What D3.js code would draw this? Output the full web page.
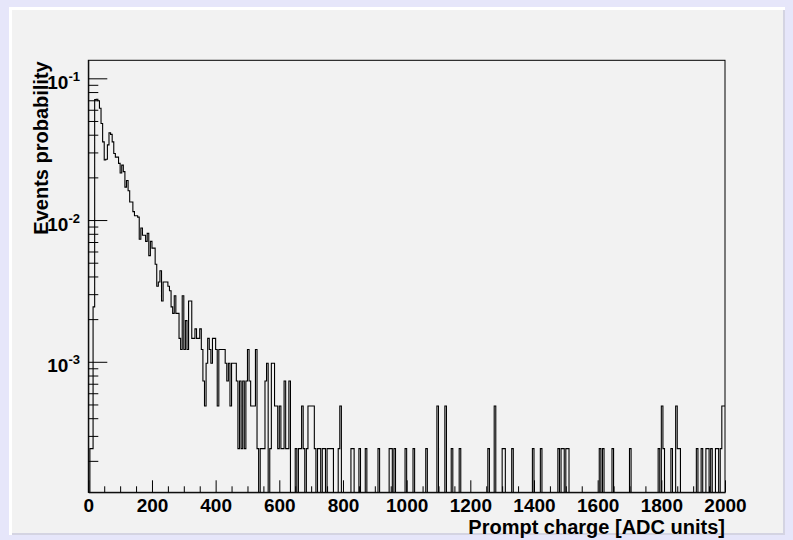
<!DOCTYPE html>
<html>
<head>
<meta charset="utf-8">
<script src="https://cdn.jsdelivr.net/npm/d3@7"></script>
<style>
  html, body { margin: 0; padding: 0; background: #e6e6fa; }
  svg { display: block; }
  text { font-family: "Liberation Sans", Arial, Helvetica, sans-serif; font-weight: bold; fill: #000; }
</style>
</head>
<body>
<svg id="chart" width="793" height="540"></svg>
<script>
// Histogram definition: prompt charge, 400 bins of 5 ADC units from 0 to 2000
const chargeRange = [0, 2000];
const binCount = 400;

// Entries per bin (bins 0..399)
const binEntries = [
  0, 1, 1, 10, 290, 292, 285, 252, 197, 146,
  109, 110, 139, 169, 165, 146, 121, 114, 114, 103,
  88, 100, 90, 70, 78, 66, 55, 55, 47, 44,
  44, 43, 30, 36, 32, 32, 29, 33, 23, 29,
  26, 26, 20, 14, 15, 18, 11, 15, 15, 15,
  14, 13, 10, 9, 12, 9, 9, 6, 5, 12,
  5, 8, 5, 11, 11, 6, 6, 7, 6, 6,
  7, 5, 3, 2, 4, 6, 5, 4, 6, 6,
  5, 2, 5, 5, 5, 5, 4, 3, 4, 2,
  4, 4, 4, 3, 1, 3, 1, 3, 1, 3,
  5, 3, 2, 2, 2, 5, 1, 0, 1, 1,
  1, 3, 4, 0, 1, 4, 4, 2, 2, 1,
  2, 1, 1, 3, 1, 1, 3, 0, 0, 0,
  1, 0, 1, 1, 2, 1, 0, 1, 2, 2,
  2, 2, 1, 0, 1, 1, 0, 1, 1, 0,
  1, 1, 1, 1, 0, 0, 0, 1, 2, 0,
  0, 0, 0, 0, 0, 1, 1, 0, 0, 0,
  1, 0, 0, 0, 1, 0, 0, 0, 0, 0,
  0, 0, 1, 0, 0, 0, 0, 0, 0, 1,
  1, 0, 1, 0, 0, 0, 0, 0, 0, 1,
  0, 0, 0, 0, 1, 0, 0, 0, 0, 0,
  0, 0, 1, 0, 0, 0, 0, 0, 0, 2,
  0, 0, 0, 0, 2, 0, 0, 0, 1, 0,
  0, 0, 0, 1, 0, 0, 0, 0, 0, 0,
  0, 0, 0, 0, 0, 0, 0, 0, 0, 0,
  0, 1, 0, 0, 0, 2, 0, 0, 0, 0,
  1, 1, 0, 0, 0, 0, 1, 0, 0, 0,
  0, 0, 0, 0, 0, 0, 0, 0, 0, 1,
  0, 0, 0, 0, 1, 0, 0, 0, 0, 0,
  0, 0, 0, 0, 0, 1, 0, 1, 1, 0,
  1, 1, 0, 0, 0, 0, 0, 0, 0, 0,
  0, 0, 0, 0, 0, 0, 0, 0, 0, 0,
  0, 1, 0, 1, 0, 0, 0, 0, 0, 1,
  0, 0, 0, 0, 0, 0, 0, 0, 0, 0,
  1, 0, 0, 0, 0, 0, 0, 0, 0, 0,
  0, 0, 0, 0, 0, 0, 0, 0, 1, 0,
  2, 1, 0, 0, 0, 0, 1, 0, 0, 2,
  1, 1, 0, 0, 0, 0, 0, 0, 0, 0,
  0, 0, 1, 0, 0, 1, 0, 0, 1, 1,
  0, 1, 0, 0, 1, 1, 0, 1, 2, 2
];
// Normalisation: total number of recorded events
const totalEvents = 4100;

// Axis settings
const xRange = [0, 2000];
const xMajorTicks = [0, 200, 400, 600, 800, 1000, 1200, 1400, 1600, 1800, 2000];
const xMinorStep = 50;
const yRange = [1.2e-4, 0.134];
const yDecades = [1e-3, 1e-2, 1e-1];
const yDecadeExponents = ["-3", "-2", "-1"];
const xTitle = "Prompt charge [ADC units]";
const yTitle = "Events probability";

// Geometry
const W = 793, H = 540;
const frame = { left: 88.3, top: 60.3, right: 725, bottom: 492.3 };

const svg = d3.select("#chart");

// Canvas border and pad bevel
svg.append("rect").attr("x", 0).attr("y", 0).attr("width", W).attr("height", H).attr("fill", "#e6e6fa");
svg.append("rect").attr("x", 9).attr("y", 7).attr("width", 776).attr("height", 528).attr("fill", "#ffffff");
svg.append("rect").attr("x", 12).attr("y", 10).attr("width", 773).attr("height", 525).attr("fill", "#d4d4e2");
svg.append("rect").attr("x", 12).attr("y", 10).attr("width", 771).attr("height", 523).attr("fill", "#f2f2f2");

const x = d3.scaleLinear().domain(xRange).range([frame.left, frame.right]);
const y = d3.scaleLog().domain(yRange).range([frame.bottom, frame.top]);

// Clip to the frame
svg.append("defs").append("clipPath").attr("id", "frameClip")
  .append("rect")
  .attr("x", frame.left).attr("y", frame.top)
  .attr("width", frame.right - frame.left).attr("height", frame.bottom - frame.top);

// Histogram outline as a step line
const binWidth = (chargeRange[1] - chargeRange[0]) / binCount;
const probs = binEntries.map(n => n / totalEvents);
const stepPoints = probs.map((p, i) => [chargeRange[0] + i * binWidth, p]);
stepPoints.push([chargeRange[1], probs[probs.length - 1]]);
const yOf = p => (p > 0 ? y(p) : frame.bottom + 4);

const line = d3.line()
  .x(d => x(d[0]))
  .y(d => yOf(d[1]))
  .curve(d3.curveStepAfter);

svg.append("path")
  .datum(stepPoints)
  .attr("clip-path", "url(#frameClip)")
  .attr("fill", "none")
  .attr("stroke", "#000")
  .attr("stroke-width", 1.1)
  .attr("d", line);

// Frame
svg.append("rect")
  .attr("x", frame.left).attr("y", frame.top)
  .attr("width", frame.right - frame.left).attr("height", frame.bottom - frame.top)
  .attr("fill", "none").attr("stroke", "#000").attr("stroke-width", 1);

// X axis: major ticks with labels, minor ticks every 50
const xMinor = d3.range(xRange[0], xRange[1] + 1, xMinorStep).filter(v => !xMajorTicks.includes(v));
const xAxisMajor = d3.axisBottom(x).tickValues(xMajorTicks).tickSizeInner(-12).tickSizeOuter(0)
  .tickPadding(6.5).tickFormat(d3.format("d"));
const gx = svg.append("g").attr("transform", `translate(0,${frame.bottom})`).call(xAxisMajor);
gx.select(".domain").attr("stroke", "#000");
gx.selectAll(".tick line").attr("stroke", "#000");
gx.selectAll(".tick text").attr("font-size", 19).attr("font-family", null).attr("fill", "#000");
const gxm = svg.append("g").attr("transform", `translate(0,${frame.bottom})`)
  .call(d3.axisBottom(x).tickValues(xMinor).tickSizeInner(-6).tickSizeOuter(0).tickFormat(""));
gxm.select(".domain").remove();
gxm.selectAll(".tick line").attr("stroke", "#000");

// Y axis: decades with 10^n labels, minor ticks 2..9
const yMinor = [];
[1e-4, 1e-3, 1e-2, 1e-1].forEach(d => {
  for (let m = 2; m <= 9; m++) {
    const v = m * d;
    if (v >= yRange[0] && v <= yRange[1]) yMinor.push(v);
  }
});
const gy = svg.append("g").attr("transform", `translate(${frame.left},0)`)
  .call(d3.axisLeft(y).tickValues(yDecades).tickSizeInner(-19).tickSizeOuter(0).tickFormat(""));
gy.select(".domain").attr("stroke", "#000");
gy.selectAll(".tick line").attr("stroke", "#000");
const gym = svg.append("g").attr("transform", `translate(${frame.left},0)`)
  .call(d3.axisLeft(y).tickValues(yMinor).tickSizeInner(-10).tickSizeOuter(0).tickFormat(""));
gym.select(".domain").remove();
gym.selectAll(".tick line").attr("stroke", "#000");

yDecades.forEach((v, i) => {
  const t = svg.append("text")
    .attr("x", 80).attr("y", y(v) + 10.5)
    .attr("text-anchor", "end")
    .attr("font-size", 19);
  t.append("tspan").text("10");
  t.append("tspan").attr("dy", -8).attr("font-size", 13).text(yDecadeExponents[i]);
});

// Axis titles
svg.append("text")
  .attr("x", frame.right).attr("y", 534)
  .attr("text-anchor", "end")
  .attr("font-size", 20)
  .text(xTitle);

svg.append("text")
  .attr("transform", `translate(48.3,${frame.top + 1}) rotate(-90)`)
  .attr("text-anchor", "end")
  .attr("font-size", 20)
  .text(yTitle);
</script>
</body>
</html>
